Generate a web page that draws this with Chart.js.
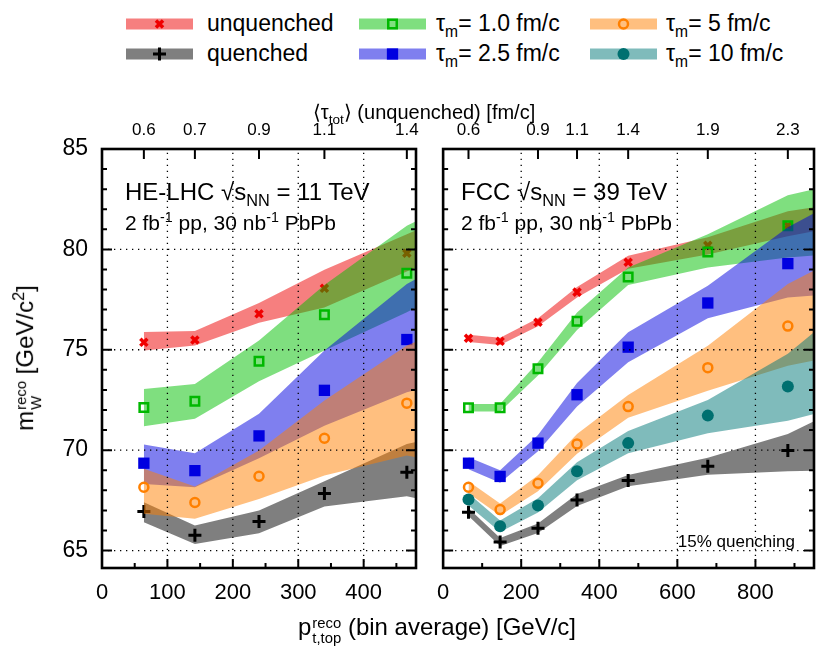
<!DOCTYPE html>
<html>
<head>
<meta charset="utf-8">
<script src="https://cdn.jsdelivr.net/npm/chart.js@4"></script>
<style>
  body { margin: 0; background: #fff; font-family: 'Liberation Sans', Arial, sans-serif; color: #000; }
  #page { position: relative; width: 830px; height: 654px; overflow: hidden; }
  canvas { position: absolute; }
  .t { position: absolute; white-space: nowrap; line-height: 1; }
  sub, sup { font-size: 0.68em; line-height: 0; }
  .ss { display: inline-block; vertical-align: -0.55em; font-size: 0.62em; line-height: 1.05; margin-left: 1px; }
  .ss span { display: block; }
  .sw { position: absolute; }
</style>
</head>
<body>
<div id="page">
  <canvas id="he" width="390" height="520" style="left:40px;top:95px"></canvas>
  <canvas id="fcc" width="400" height="520" style="left:425px;top:95px"></canvas>

  <div id="legend"></div>

  <div class="t" style="left:424px;top:112px;transform:translate(-50%,-50%);font-size:20px">&#10216;&tau;<sub>tot</sub>&#10217; (unquenched) [fm/c]</div>
  <div class="t" style="left:437px;top:631px;transform:translate(-50%,-50%);font-size:24px">p<span class="ss"><span>reco</span><span>t,top</span></span> (bin average) [GeV/c]</div>
  <div class="t" style="left:29px;top:358px;transform:translate(-50%,-50%) rotate(-90deg);font-size:24px">m<span class="ss"><span>reco</span><span>W</span></span> [GeV/c<sup>2</sup>]</div>

  <div class="t" style="left:125px;top:180px;font-size:24px">HE-LHC &radic;s<sub>NN</sub> = 11 TeV</div>
  <div class="t" style="left:125px;top:212px;font-size:21px">2 fb<sup>-1</sup> pp, 30 nb<sup>-1</sup> PbPb</div>
  <div class="t" style="left:461px;top:180px;font-size:24px">FCC &radic;s<sub>NN</sub> = 39 TeV</div>
  <div class="t" style="left:461px;top:212px;font-size:21px">2 fb<sup>-1</sup> pp, 30 nb<sup>-1</sup> PbPb</div>
  <div class="t" style="right:35px;top:533px;font-size:17px">15% quenching</div>
</div>

<script>
// HE-LHC panel
const heX = [64, 142, 240, 340, 466];
const heBandX = [64, 142, 240, 340, 466, 480];
const heUnq = [75.37, 75.49, 76.79, 78.06, 79.81];
const heUnqLo = [74.96, 75.21, 76.34, 77.10, 78.90, 79.10];
const heUnqHi = [75.88, 75.93, 77.33, 78.98, 80.75, 80.95];
const heQ = [66.94, 65.76, 66.44, 67.84, 68.90];
const heQLo = [66.41, 65.33, 65.86, 67.19, 67.70, 67.60];
const heQHi = [67.41, 66.25, 66.99, 68.45, 70.31, 70.40];
const heT1 = [72.12, 72.44, 74.43, 76.74, 78.81];
const heT1Lo = [71.19, 71.56, 73.43, 74.96, 76.87, 77.10];
const heT1Hi = [73.05, 73.30, 75.46, 78.23, 81.18, 81.40];
const heT25 = [69.35, 68.98, 70.71, 72.98, 75.51];
const heT25Lo = [68.32, 68.15, 69.60, 71.22, 72.88, 73.00];
const heT25Hi = [70.28, 69.85, 71.81, 74.96, 78.28, 78.53];
const heT5 = [68.15, 67.39, 68.70, 70.59, 72.34];
const heT5Lo = [66.83, 66.58, 67.57, 68.74, 69.73, 69.65];
const heT5Hi = [69.07, 68.19, 69.98, 72.47, 75.21, 75.40];
const heTauX = [64, 142, 240, 340, 466];
const heTau = ['0.6', '0.7', '0.9', '1.1', '1.4'];
const heTicks = [0, 100, 200, 300, 400];

// FCC panel
const fccX = [65, 146, 243, 343, 474, 678, 883];
const fccBandX = [65, 146, 243, 343, 474, 678, 883, 950];
const fccUnq = [75.57, 75.42, 76.37, 77.87, 79.36, 80.20, 81.18];
const fccUnqLo = [75.39, 75.24, 76.17, 77.60, 79.03, 79.75, 80.65, 80.90];
const fccUnqHi = [75.75, 75.60, 76.57, 78.13, 79.68, 80.60, 81.90, 82.10];
const fccQ = [66.91, 65.42, 66.11, 67.52, 68.49, 69.20, 69.98];
const fccQLo = [66.72, 65.22, 65.87, 67.22, 68.20, 68.77, 68.95, 68.98];
const fccQHi = [67.10, 65.62, 66.35, 67.82, 68.76, 69.62, 70.81, 71.44];
const fccT1 = [72.11, 72.11, 74.05, 76.42, 78.63, 79.87, 81.18];
const fccT1Lo = [71.92, 71.92, 73.72, 75.98, 78.23, 79.10, 79.60, 79.70];
const fccT1Hi = [72.30, 72.30, 74.38, 76.85, 79.10, 80.76, 82.70, 83.00];
const fccT25 = [69.35, 68.69, 70.35, 72.76, 75.13, 77.33, 79.29];
const fccT25Lo = [69.05, 68.38, 69.95, 72.18, 74.38, 76.57, 77.60, 77.70];
const fccT25Hi = [69.65, 69.00, 70.75, 73.35, 75.87, 78.19, 81.10, 81.80];
const fccT5 = [68.15, 67.04, 68.35, 70.31, 72.17, 74.11, 76.18];
const fccT5Lo = [67.85, 66.74, 67.95, 69.82, 71.62, 72.96, 74.20, 74.46];
const fccT5Hi = [68.45, 67.34, 68.75, 70.80, 72.75, 75.20, 78.28, 78.95];
const fccT10 = [67.54, 66.21, 67.24, 68.95, 70.35, 71.72, 73.17];
const fccT10Lo = [67.24, 65.92, 66.90, 68.50, 69.85, 70.84, 71.47, 71.80];
const fccT10Hi = [67.84, 66.50, 67.60, 69.40, 70.95, 72.50, 74.80, 75.87];
const fccTauX = [65, 243, 343, 474, 678, 883];
const fccTau = ['0.6', '0.9', '1.1', '1.4', '1.9', '2.3'];
const fccTicks = [0, 200, 400, 600, 800];

const yTicks = [65, 70, 75, 80, 85];

// series in plotting order (also legend order, column by column)
const seriesKeys = ['unq', 'q', 't1', 't25', 't5', 't10'];
const seriesLabels = ['unquenched', 'quenched', '&tau;<sub>m</sub>= 1.0 fm/c', '&tau;<sub>m</sub>= 2.5 fm/c',
  '&tau;<sub>m</sub>= 5 fm/c', '&tau;<sub>m</sub>= 10 fm/c'];

const styles = {
  unq: { band: 'rgba(238,0,0,0.5)', color: '#f00000', pointStyle: 'crossRot', radius: 5, borderWidth: 3.5, fill: '#f00000' },
  q:   { band: 'rgba(0,0,0,0.5)', color: '#000000', pointStyle: 'cross', radius: 6.5, borderWidth: 3, fill: '#000000' },
  t1:  { band: 'rgba(0,192,0,0.5)', color: '#00b800', pointStyle: 'rect', radius: 6, borderWidth: 2.5, fill: 'rgba(0,0,0,0)' },
  t25: { band: 'rgba(0,0,224,0.5)', color: '#0000e0', pointStyle: 'rect', radius: 8, borderWidth: 0, fill: '#0000e0' },
  t5:  { band: 'rgba(255,128,0,0.5)', color: '#ff8000', pointStyle: 'circle', radius: 4.5, borderWidth: 2.5, fill: 'rgba(0,0,0,0)' },
  t10: { band: 'rgba(0,119,119,0.5)', color: '#007070', pointStyle: 'circle', radius: 6, borderWidth: 0, fill: '#007070' }
};

const Y_MIN = 64.13, Y_MAX = 85;

Chart.defaults.font.family = "'Liberation Sans', Arial, sans-serif";
Chart.defaults.color = '#000';

function buildDatasets(xs, bandX, data) {
  const ds = [];
  seriesKeys.forEach((key, g) => {
    if (!data[key]) return;
    const [pts, lo, hi] = data[key];
    const s = styles[key];
    const order = 100 - g * 3;
    const loIdx = ds.length;
    ds.push({
      data: bandX.map((x, i) => ({ x, y: lo[i] })),
      borderWidth: 0, pointRadius: 0, fill: false, tension: 0, order
    });
    ds.push({
      data: bandX.map((x, i) => ({ x, y: hi[i] })),
      borderWidth: 0, pointRadius: 0, backgroundColor: s.band, fill: loIdx, tension: 0, order
    });
    ds.push({
      data: xs.map((x, i) => ({ x, y: pts[i] })),
      showLine: false, pointStyle: s.pointStyle, pointRadius: s.radius,
      borderWidth: s.borderWidth, borderColor: s.color, backgroundColor: s.fill, order: order - 1
    });
  });
  return ds;
}

// frame, inward ticks and dotted grid like the original
const framePlugin = {
  id: 'frame',
  afterDatasetsDraw(chart, args, o) {
    const { ctx, chartArea: a } = chart;
    const X = v => chart.scales.x.getPixelForValue(v);
    const Y = v => chart.scales.y.getPixelForValue(v);
    ctx.save();
    ctx.strokeStyle = '#000';
    ctx.lineWidth = 1.3;
    ctx.setLineDash([1.3, 4.7]);
    ctx.beginPath();
    o.xGrid.forEach(v => { ctx.moveTo(X(v), a.bottom); ctx.lineTo(X(v), a.top); });
    o.yGrid.forEach(v => { ctx.moveTo(a.left, Y(v)); ctx.lineTo(a.right, Y(v)); });
    ctx.stroke();
    ctx.setLineDash([]);

    ctx.lineWidth = 2;
    ctx.beginPath();
    for (let v = o.xMinor; v < o.xMax; v += o.xMinor) {
      const len = v % o.xMajor === 0 ? 9 : 5;
      ctx.moveTo(X(v), a.bottom); ctx.lineTo(X(v), a.bottom - len);
    }
    o.topTicks.forEach(v => { ctx.moveTo(X(v), a.top); ctx.lineTo(X(v), a.top + 10); });
    for (let v = 65; v < 85; v++) {
      const len = v % 5 === 0 ? 10 : 5;
      ctx.moveTo(a.left, Y(v)); ctx.lineTo(a.left + len, Y(v));
      ctx.moveTo(a.right, Y(v)); ctx.lineTo(a.right - len, Y(v));
    }
    ctx.stroke();

    ctx.lineWidth = 2.6;
    ctx.strokeRect(a.left, a.top, a.right - a.left, a.bottom - a.top);
    ctx.restore();
  }
};

function makePanel(id, p) {
  return new Chart(document.getElementById(id), {
    type: 'line',
    data: { datasets: buildDatasets(p.x, p.bandX, p.data) },
    plugins: [framePlugin],
    options: {
      responsive: false,
      animation: false,
      events: [],
      layout: { padding: p.padding },
      plugins: {
        legend: { display: false },
        tooltip: { enabled: false },
        frame: { xGrid: p.xGrid, yGrid: [65, 70, 75, 80], xMinor: p.xMinor, xMajor: p.xMajor,
                 xMax: p.xMax, topTicks: p.tauX }
      },
      scales: {
        x: {
          type: 'linear', position: 'bottom', min: 0, max: p.xMax, bounds: 'data',
          grid: { display: false, drawTicks: false }, border: { display: false },
          afterBuildTicks: s => { s.ticks = p.ticks.map(v => ({ value: v })); },
          afterFit: s => { s.height = 47; },
          ticks: { autoSkip: false, maxRotation: 0, padding: 12, font: { size: 22 } }
        },
        x2: {
          type: 'linear', position: 'top', min: 0, max: p.xMax, bounds: 'data',
          grid: { display: false, drawTicks: false }, border: { display: false },
          afterBuildTicks: s => { s.ticks = p.tauX.map(v => ({ value: v })); },
          afterFit: s => { s.height = 54; },
          ticks: { autoSkip: false, maxRotation: 0, padding: 8, font: { size: 17 },
                   callback: (v, i) => p.tau[i] }
        },
        y: {
          type: 'linear', position: 'left', min: Y_MIN, max: Y_MAX, bounds: 'data',
          display: p.showY,
          grid: { display: false, drawTicks: false }, border: { display: false },
          afterBuildTicks: s => { s.ticks = yTicks.map(v => ({ value: v })); },
          afterFit: s => { s.width = p.showY ? 62 : 0; },
          ticks: { autoSkip: false, padding: 14, font: { size: 23 } }
        }
      }
    }
  });
}

makePanel('he', {
  x: heX, bandX: heBandX, xMax: 480, ticks: heTicks, tauX: heTauX, tau: heTau,
  xGrid: [100, 200, 300, 400], xMinor: 50, xMajor: 100, showY: true,
  padding: { left: 0, right: 14, top: 0, bottom: 0 },
  data: {
    unq: [heUnq, heUnqLo, heUnqHi],
    q: [heQ, heQLo, heQHi],
    t1: [heT1, heT1Lo, heT1Hi],
    t25: [heT25, heT25Lo, heT25Hi],
    t5: [heT5, heT5Lo, heT5Hi]
  }
});

makePanel('fcc', {
  x: fccX, bandX: fccBandX, xMax: 950, ticks: fccTicks, tauX: fccTauX, tau: fccTau,
  xGrid: [200, 400, 600, 800], xMinor: 100, xMajor: 200, showY: false,
  padding: { left: 8, right: 11, top: 0, bottom: 0 },
  data: {
    unq: [fccUnq, fccUnqLo, fccUnqHi],
    q: [fccQ, fccQLo, fccQHi],
    t1: [fccT1, fccT1Lo, fccT1Hi],
    t25: [fccT25, fccT25Lo, fccT25Hi],
    t5: [fccT5, fccT5Lo, fccT5Hi],
    t10: [fccT10, fccT10Lo, fccT10Hi]
  }
});

// legend: 3 columns x 2 rows
const legSwatchX = [126, 359, 590];
const legTextX = [207, 436, 666];
const legRowY = [24, 54];
const legend = document.getElementById('legend');
seriesKeys.forEach((key, i) => {
  const col = Math.floor(i / 2), row = i % 2;
  const s = styles[key];
  const c = document.createElement('canvas');
  c.width = 67; c.height = 20;
  c.className = 'sw';
  c.style.left = legSwatchX[col] + 'px';
  c.style.top = (legRowY[row] - 10) + 'px';
  const ctx = c.getContext('2d');
  ctx.fillStyle = s.band;
  ctx.fillRect(0, 4.5, 67, 11);
  ctx.fillStyle = s.fill;
  ctx.strokeStyle = s.color;
  ctx.lineWidth = s.borderWidth;
  if (Chart.helpers && Chart.helpers.drawPoint) {
    Chart.helpers.drawPoint(ctx, { pointStyle: s.pointStyle, radius: s.radius, borderWidth: s.borderWidth, rotation: 0 }, 33.5, 10);
  }
  legend.appendChild(c);
  const t = document.createElement('div');
  t.className = 't';
  t.style.left = legTextX[col] + 'px';
  t.style.top = (legRowY[row] - 12) + 'px';
  t.style.fontSize = '23px';
  t.innerHTML = seriesLabels[i];
  legend.appendChild(t);
});
</script>
</body>
</html>
